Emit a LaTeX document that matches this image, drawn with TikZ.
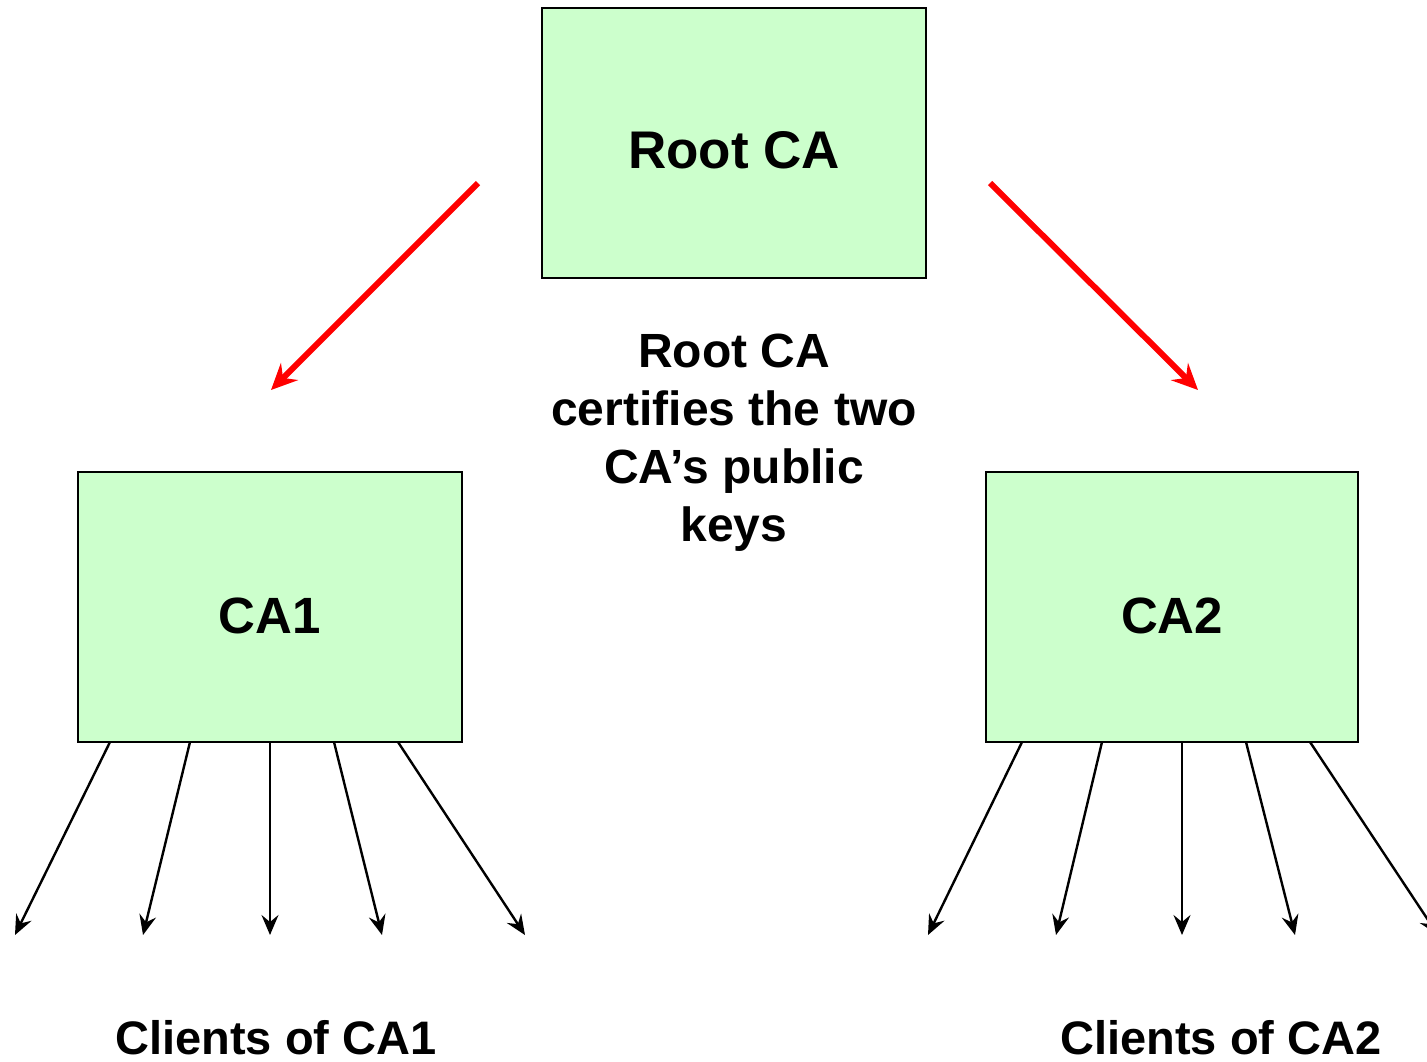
\documentclass[tikz,border=0pt]{standalone}
\usepackage{fontspec}
\setmainfont{Liberation Sans}
\usetikzlibrary{arrows.meta}
\definecolor{boxgreen}{HTML}{CCFFCC}
\definecolor{certred}{HTML}{FF0000}
\tikzset{
  ca/.style={draw=black, line width=1.8pt, fill=boxgreen, inner sep=0pt},
  cert/.style={draw=certred, line width=6pt, -{Stealth[length=26pt, width=24pt, inset=9pt]}},
  issue/.style={draw=black, line width=2.4pt, -{Stealth[length=20pt, width=17pt, inset=7pt]}},
  lbl/.style={font=\bfseries, inner sep=0pt},
}
\begin{document}
\begin{tikzpicture}[x=1pt, y=-1pt]
  \useasboundingbox (0,0) rectangle (1427,1061);
  \clip (0,0) rectangle (1427,1061);

  % certificate authorities
  \node[ca, minimum width=384pt, minimum height=270pt] (root) at (734,143) {};
  \node[ca, minimum width=384pt, minimum height=270pt] (ca1) at (270,607) {};
  \node[ca, minimum width=372pt, minimum height=270pt] (ca2) at (1172,607) {};

  \node[lbl, anchor=base, font=\fontsize{53}{64}\selectfont\bfseries] (rootlbl) at (734,168) {Root CA};
  \node[lbl, anchor=base, font=\fontsize{51}{62}\selectfont\bfseries] (ca1lbl) at (270,633) {CA1};
  \node[lbl, anchor=base, font=\fontsize{51}{62}\selectfont\bfseries] (ca2lbl) at (1172,633) {CA2};

  % explanation (base anchor sits on the last line)
  \node[lbl, anchor=base, align=center, font=\fontsize{48}{58}\selectfont\bfseries] (note) at (734,541)
    {Root CA\\certifies the two\\CA’s public\\keys};

  % certification arrows
  \coordinate (r1s) at (478,183);
  \coordinate (r1e) at (271,390);
  \coordinate (r2s) at (990,183);
  \coordinate (r2e) at (1198,390);
  \draw[cert] (r1s) -- (r1e);
  \draw[cert] (r2s) -- (r2e);

  % clients of CA1
  \foreach \sx/\ex [count=\i] in {110/15, 190/143, 270/270, 334/382, 398/525} {
    \coordinate (a\i) at (\sx,742);
    \coordinate (ae\i) at (\ex,935);
    \draw[issue] (a\i) -- (ae\i);
  }
  % clients of CA2
  \foreach \sx/\ex [count=\i] in {1022/928, 1102/1056, 1182/1182, 1246/1295, 1310/1438} {
    \coordinate (b\i) at (\sx,742);
    \coordinate (be\i) at (\ex,935);
    \draw[issue] (b\i) -- (be\i);
  }

  \node[lbl, anchor=base, font=\fontsize{47}{56}\selectfont\bfseries] (cl1) at (276,1054) {Clients of CA1};
  \node[lbl, anchor=base, font=\fontsize{47}{56}\selectfont\bfseries] (cl2) at (1221,1054) {Clients of CA2};
\end{tikzpicture}
\end{document}
